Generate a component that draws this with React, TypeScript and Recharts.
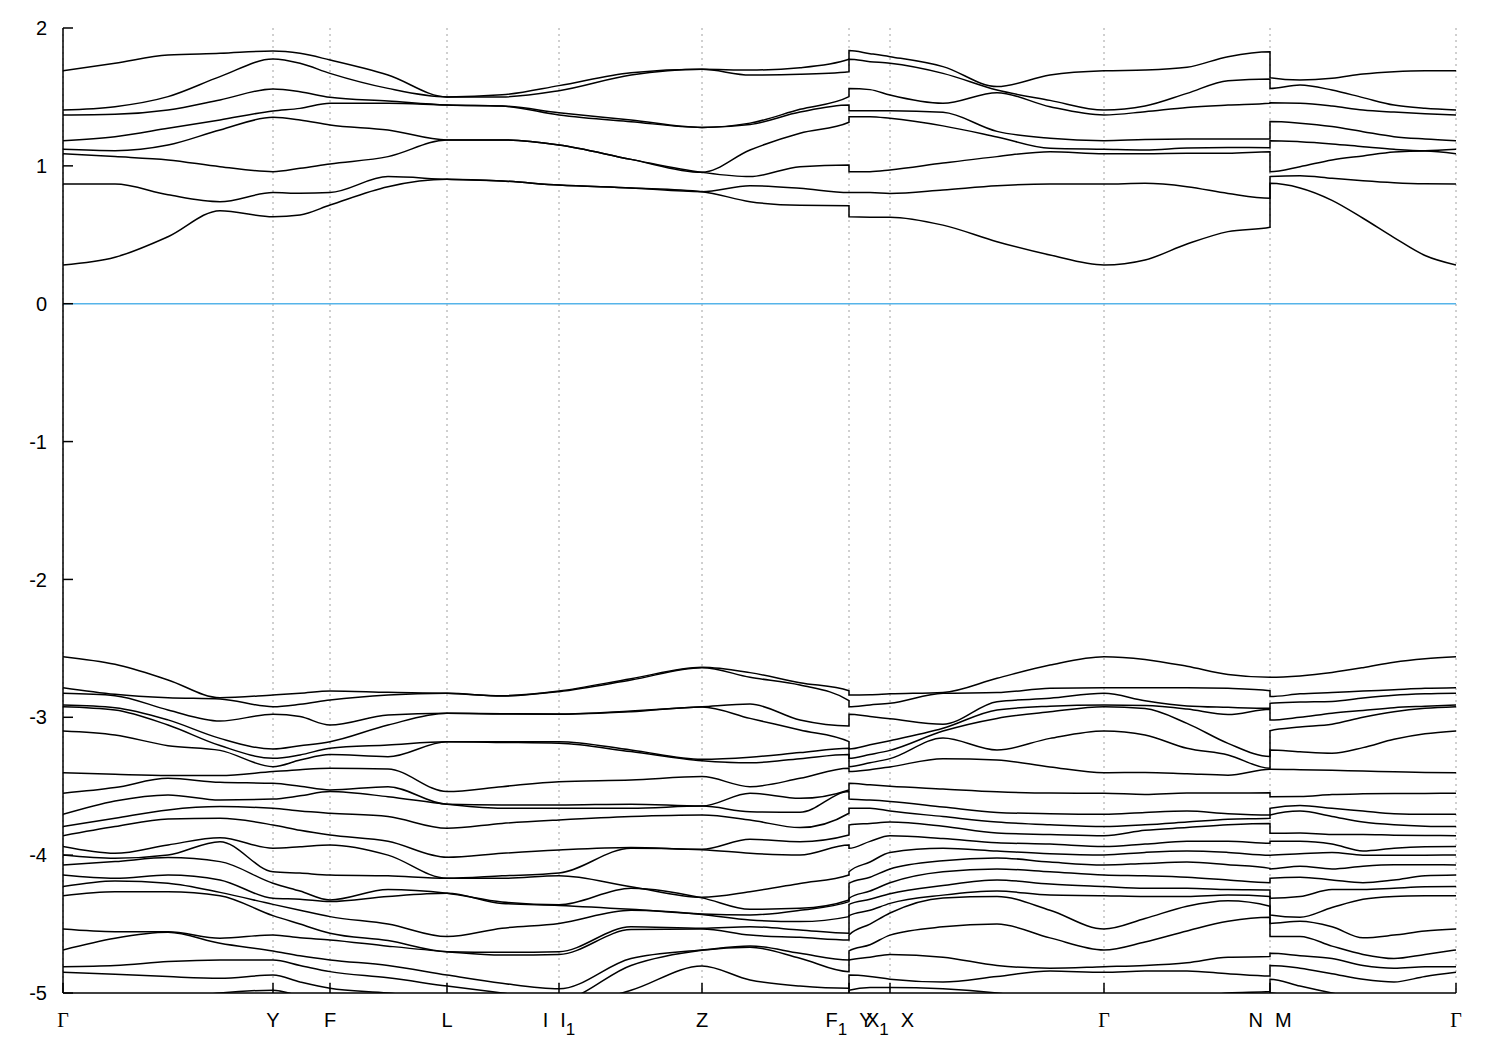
import React from "react";
import { LineChart, Line, XAxis, YAxis, CartesianGrid, ReferenceLine } from "recharts";

// high-symmetry points along the k-path (arbitrary distance units)
const SYM_K = [0, 2.1, 2.67, 3.84, 4.96, 6.39, 7.86, 8.27, 10.41, 12.07, 13.93];
// "|" = gap between two labels sharing a tick, "_1" = subscript
const SYM_LABELS = ["Γ", "Y", "F", "L", "I|I_1", "Z", "F_1|Y", "X_1|X", "Γ", "N|M", "Γ"];
const E_TICKS = [-5, -4, -3, -2, -1, 0, 1, 2];

// sampled k values; 7.86 and 12.07 appear twice (path breaks F1|Y and N|M)
const K_PATH = [
  0, 0.52, 1.05, 1.57, 2.1, 2.37, 2.67, 3.25, 3.84, 4.39, 4.96, 5.68, 6.39, 6.87, 7.37, 7.86,
  7.86, 8.07, 8.27, 8.8, 9.34, 9.87, 10.41, 10.82, 11.24, 11.65, 12.07,
  12.07, 12.37, 12.69, 13.0, 13.31, 13.62, 13.93,
];

// conduction bands (eV)
const C1 = [0.281, 0.337, 0.486, 0.675, 0.631, 0.644, 0.716, 0.849, 0.902, 0.89, 0.861, 0.84, 0.813, 0.74, 0.714, 0.711, 0.631, 0.628, 0.628, 0.57, 0.45, 0.353, 0.281, 0.317, 0.433, 0.523, 0.554, 0.873, 0.84, 0.75, 0.62, 0.48, 0.35, 0.281];
const C2 = [0.868, 0.868, 0.79, 0.74, 0.806, 0.801, 0.806, 0.922, 0.902, 0.89, 0.861, 0.84, 0.813, 0.856, 0.837, 0.806, 0.806, 0.806, 0.8, 0.825, 0.856, 0.868, 0.868, 0.873, 0.849, 0.8, 0.765, 0.922, 0.929, 0.91, 0.892, 0.878, 0.87, 0.868];
const C3 = [1.088, 1.067, 1.043, 0.994, 0.958, 0.982, 1.014, 1.067, 1.188, 1.188, 1.151, 1.047, 0.953, 0.922, 0.994, 1.006, 0.958, 0.958, 0.97, 1.02, 1.067, 1.103, 1.088, 1.088, 1.091, 1.091, 1.103, 0.958, 0.994, 1.043, 1.072, 1.1, 1.108, 1.088];
const C4 = [1.12, 1.11, 1.151, 1.26, 1.352, 1.333, 1.296, 1.26, 1.188, 1.188, 1.151, 1.047, 0.953, 1.115, 1.236, 1.316, 1.357, 1.357, 1.345, 1.29, 1.21, 1.127, 1.12, 1.115, 1.13, 1.134, 1.132, 1.183, 1.175, 1.159, 1.139, 1.12, 1.11, 1.12];
const C5 = [1.183, 1.212, 1.272, 1.333, 1.398, 1.417, 1.454, 1.455, 1.441, 1.434, 1.369, 1.32, 1.279, 1.3, 1.39, 1.441, 1.4, 1.4, 1.4, 1.388, 1.25, 1.2, 1.183, 1.192, 1.195, 1.195, 1.195, 1.321, 1.309, 1.285, 1.248, 1.212, 1.195, 1.183];
const C6 = [1.369, 1.374, 1.405, 1.478, 1.558, 1.538, 1.497, 1.47, 1.441, 1.434, 1.386, 1.333, 1.279, 1.31, 1.41, 1.502, 1.562, 1.553, 1.514, 1.454, 1.531, 1.429, 1.369, 1.393, 1.424, 1.441, 1.454, 1.458, 1.454, 1.434, 1.405, 1.39, 1.378, 1.369];
const C7 = [1.405, 1.429, 1.502, 1.647, 1.775, 1.744, 1.671, 1.562, 1.5, 1.5, 1.545, 1.659, 1.7, 1.659, 1.664, 1.683, 1.773, 1.756, 1.744, 1.671, 1.55, 1.475, 1.405, 1.434, 1.526, 1.618, 1.63, 1.562, 1.587, 1.55, 1.495, 1.441, 1.417, 1.405];
const C8 = [1.69, 1.744, 1.804, 1.816, 1.833, 1.816, 1.768, 1.659, 1.5, 1.515, 1.582, 1.676, 1.7, 1.695, 1.712, 1.773, 1.836, 1.814, 1.792, 1.72, 1.575, 1.659, 1.69, 1.695, 1.715, 1.792, 1.828, 1.64, 1.623, 1.635, 1.666, 1.683, 1.69, 1.69];

// valence bands (eV), highest first
const V1 = [-2.56, -2.616, -2.729, -2.858, -2.838, -2.826, -2.809, -2.819, -2.826, -2.843, -2.809, -2.72, -2.637, -2.676, -2.749, -2.807, -2.838, -2.836, -2.83, -2.82, -2.717, -2.621, -2.56, -2.58, -2.63, -2.69, -2.71, -2.71, -2.7, -2.675, -2.64, -2.6, -2.575, -2.56];
const V2 = [-2.785, -2.833, -2.858, -2.867, -2.923, -2.906, -2.875, -2.838, -2.826, -2.846, -2.814, -2.73, -2.64, -2.71, -2.766, -2.879, -2.923, -2.91, -2.899, -2.826, -2.821, -2.79, -2.785, -2.785, -2.785, -2.79, -2.807, -2.85, -2.83, -2.82, -2.81, -2.8, -2.79, -2.785];
const V3 = [-2.826, -2.843, -2.947, -3.027, -2.978, -2.995, -3.056, -2.983, -2.971, -2.974, -2.976, -2.954, -2.923, -2.904, -3.02, -3.063, -2.978, -2.995, -3.01, -3.05, -2.887, -2.862, -2.826, -2.88, -2.918, -2.928, -2.935, -2.899, -2.89, -2.885, -2.86, -2.84, -2.83, -2.826];
const V4 = [-2.911, -2.93, -3.019, -3.153, -3.23, -3.206, -3.177, -3.056, -2.971, -2.976, -2.978, -2.96, -2.925, -3.008, -3.092, -3.177, -3.23, -3.2, -3.17, -3.08, -2.947, -2.92, -2.911, -2.915, -2.94, -2.98, -2.942, -3.02, -3.0, -2.97, -2.95, -2.93, -2.92, -2.911];
const V5 = [-2.923, -2.947, -3.056, -3.205, -3.298, -3.273, -3.225, -3.201, -3.177, -3.177, -3.177, -3.237, -3.305, -3.29, -3.256, -3.225, -3.298, -3.27, -3.24, -3.1, -3.008, -2.96, -2.923, -2.937, -3.044, -3.189, -3.285, -3.097, -3.07, -3.05, -3.0, -2.96, -2.935, -2.923];
const V6 = [-3.099, -3.128, -3.206, -3.24, -3.358, -3.31, -3.27, -3.286, -3.177, -3.182, -3.189, -3.249, -3.315, -3.33, -3.3, -3.27, -3.358, -3.33, -3.3, -3.15, -3.237, -3.153, -3.099, -3.128, -3.225, -3.273, -3.37, -3.237, -3.25, -3.26, -3.22, -3.16, -3.12, -3.099];
const V7 = [-3.402, -3.414, -3.423, -3.423, -3.394, -3.38, -3.37, -3.375, -3.539, -3.503, -3.467, -3.455, -3.43, -3.503, -3.443, -3.37, -3.394, -3.38, -3.36, -3.3, -3.31, -3.36, -3.402, -3.4, -3.41, -3.42, -3.377, -3.377, -3.38, -3.385, -3.39, -3.395, -3.4, -3.402];
const V8 = [-3.551, -3.51, -3.443, -3.472, -3.479, -3.5, -3.527, -3.503, -3.631, -3.636, -3.636, -3.63, -3.644, -3.551, -3.588, -3.527, -3.479, -3.49, -3.5, -3.52, -3.54, -3.55, -3.551, -3.56, -3.55, -3.55, -3.547, -3.576, -3.575, -3.56, -3.555, -3.553, -3.552, -3.551];
const V9 = [-3.704, -3.607, -3.563, -3.6, -3.593, -3.57, -3.539, -3.576, -3.631, -3.66, -3.66, -3.66, -3.644, -3.685, -3.689, -3.539, -3.593, -3.6, -3.61, -3.65, -3.69, -3.7, -3.704, -3.69, -3.68, -3.7, -3.709, -3.66, -3.64, -3.66, -3.68, -3.7, -3.704, -3.704];
const V10 = [-3.793, -3.733, -3.672, -3.648, -3.66, -3.68, -3.696, -3.72, -3.805, -3.77, -3.745, -3.72, -3.709, -3.745, -3.8, -3.696, -3.66, -3.66, -3.68, -3.72, -3.76, -3.78, -3.793, -3.78, -3.76, -3.74, -3.733, -3.709, -3.68, -3.72, -3.76, -3.78, -3.79, -3.793];
const V11 = [-3.859, -3.793, -3.738, -3.733, -3.781, -3.82, -3.854, -3.9, -4.016, -3.987, -3.963, -3.945, -3.958, -3.885, -3.902, -3.854, -3.781, -3.77, -3.76, -3.79, -3.84, -3.85, -3.859, -3.82, -3.8, -3.78, -3.77, -3.842, -3.84, -3.85, -3.85, -3.855, -3.857, -3.859];
const V12 = [-3.938, -3.987, -3.926, -3.873, -3.95, -3.94, -3.926, -4.0, -4.168, -4.15, -4.13, -3.95, -3.96, -3.987, -3.999, -3.926, -3.95, -3.9, -3.86, -3.88, -3.91, -3.92, -3.938, -3.92, -3.9, -3.9, -3.914, -3.9, -3.9, -3.92, -3.97, -3.95, -3.94, -3.938];
const V13 = [-3.999, -4.023, -3.999, -3.902, -4.12, -4.13, -4.144, -4.15, -4.168, -4.168, -4.15, -4.229, -4.306, -4.265, -4.205, -4.144, -4.12, -4.05, -3.98, -3.95, -3.97, -3.99, -3.999, -3.98, -3.97, -3.98, -4.0, -4.0, -3.99, -3.98, -4.0, -4.0, -4.0, -3.999];
const V14 = [-4.071, -4.047, -4.018, -4.047, -4.204, -4.26, -4.325, -4.25, -4.277, -4.34, -4.36, -4.24, -4.31, -4.393, -4.386, -4.325, -4.204, -4.16, -4.1, -4.04, -4.02, -4.05, -4.071, -4.06, -4.05, -4.07, -4.096, -4.1, -4.08, -4.1, -4.08, -4.07, -4.07, -4.071];
const V15 = [-4.144, -4.168, -4.144, -4.18, -4.313, -4.32, -4.337, -4.3, -4.277, -4.35, -4.365, -4.393, -4.427, -4.434, -4.4, -4.337, -4.313, -4.26, -4.2, -4.12, -4.1, -4.12, -4.144, -4.15, -4.16, -4.18, -4.2, -4.168, -4.16, -4.18, -4.2, -4.18, -4.15, -4.144];
const V16 = [-4.228, -4.187, -4.204, -4.27, -4.357, -4.4, -4.446, -4.5, -4.591, -4.53, -4.495, -4.4, -4.43, -4.47, -4.482, -4.446, -4.357, -4.32, -4.28, -4.22, -4.18, -4.21, -4.228, -4.24, -4.24, -4.25, -4.253, -4.313, -4.3, -4.25, -4.25, -4.24, -4.23, -4.228];
const V17 = [-4.294, -4.265, -4.265, -4.294, -4.439, -4.5, -4.567, -4.62, -4.7, -4.705, -4.7, -4.52, -4.531, -4.519, -4.543, -4.567, -4.439, -4.4, -4.35, -4.29, -4.26, -4.29, -4.294, -4.3, -4.3, -4.29, -4.3, -4.434, -4.45, -4.38, -4.32, -4.3, -4.295, -4.294];
const V18 = [-4.536, -4.555, -4.555, -4.603, -4.579, -4.6, -4.615, -4.66, -4.7, -4.725, -4.72, -4.54, -4.535, -4.58, -4.596, -4.615, -4.579, -4.5, -4.42, -4.31, -4.3, -4.4, -4.536, -4.46, -4.37, -4.33, -4.37, -4.495, -4.48, -4.52, -4.6, -4.58, -4.55, -4.536];
const V19 = [-4.688, -4.603, -4.56, -4.639, -4.695, -4.73, -4.76, -4.8, -4.87, -4.93, -4.97, -4.75, -4.688, -4.659, -4.712, -4.76, -4.695, -4.65, -4.58, -4.52, -4.5, -4.6, -4.688, -4.63, -4.55, -4.48, -4.45, -4.591, -4.59, -4.66, -4.72, -4.75, -4.72, -4.688];
const V20 = [-4.809, -4.801, -4.772, -4.76, -4.76, -4.8, -4.845, -4.89, -4.95, -5.0, -5.05, -4.8, -4.69, -4.668, -4.748, -4.845, -4.76, -4.74, -4.72, -4.74, -4.8, -4.82, -4.809, -4.8, -4.78, -4.74, -4.736, -4.712, -4.73, -4.75, -4.8, -4.82, -4.81, -4.809];
const V21 = [-4.85, -4.864, -4.881, -4.893, -4.87, -4.92, -4.966, -5.0, -5.05, -5.1, -5.1, -4.98, -4.804, -4.905, -4.95, -4.966, -4.87, -4.88, -4.9, -4.92, -4.88, -4.84, -4.85, -4.84, -4.84, -4.86, -4.877, -4.8, -4.82, -4.86, -4.9, -4.92, -4.88, -4.85];
const V22 = [-5.15, -5.1, -5.05, -5.0, -4.98, -5.02, -5.05, -5.1, -5.15, -5.2, -5.2, -5.1, -5.05, -5.03, -5.03, -5.05, -4.98, -4.96, -4.96, -4.97, -5.0, -5.05, -5.15, -5.08, -5.05, -5.0, -4.99, -4.9, -4.95, -5.0, -5.05, -5.1, -5.12, -5.15];
const V23 = [-5.3, -5.25, -5.2, -5.1, -5.1, -5.12, -5.15, -5.2, -5.25, -5.3, -5.3, -5.2, -5.15, -5.15, -5.1, -5.15, -5.1, -5.1, -5.1, -5.1, -5.15, -5.2, -5.3, -5.3, -5.2, -5.1, -5.1, -5.0, -5.05, -5.1, -5.2, -5.25, -5.3, -5.3];

const BANDS = [C1, C2, C3, C4, C5, C6, C7, C8, V1, V2, V3, V4, V5, V6, V7, V8, V9, V10, V11, V12, V13, V14, V15, V16, V17, V18, V19, V20, V21, V22, V23];

const SANS = "'Liberation Sans', Arial, Helvetica, sans-serif";
const SERIF = "'Liberation Serif', 'Times New Roman', serif";

function PathTick(props: any) {
  const { x, y, payload } = props;
  const label = SYM_LABELS[SYM_K.indexOf(payload.value)] ?? "";
  const spans: React.ReactNode[] = [];
  let shift = 0; // current baseline offset from subscripts
  label.split("|").forEach((word, wi) => {
    const [base, sub] = word.split("_");
    spans.push(
      <tspan
        key={`b${wi}`}
        dx={wi > 0 ? 12 : 0}
        dy={-shift}
        fontFamily={base === "Γ" ? SERIF : SANS}
      >
        {base}
      </tspan>
    );
    shift = 0;
    if (sub) {
      spans.push(
        <tspan key={`s${wi}`} fontSize={17} dy={8}>
          {sub}
        </tspan>
      );
      shift = 8;
    }
  });
  return (
    <text x={x} y={y + 44} textAnchor="middle" fontSize={20} fill="#000" fontFamily={SANS}>
      {spans}
    </text>
  );
}

export default function App() {
  const series = BANDS.map((band) => K_PATH.map((k, i) => ({ k, e: band[i] })));

  return (
    <div style={{ background: "#fff", width: 1468 }}>
      <LineChart width={1468} height={1040} margin={{ top: 20, right: 20, bottom: 5, left: 0 }}>
        <CartesianGrid horizontal={false} stroke="#a0a0a0" strokeDasharray="2 4" />
        <XAxis
          dataKey="k"
          type="number"
          domain={[0, 13.93]}
          ticks={SYM_K}
          interval={0}
          height={50}
          allowDataOverflow
          axisLine={{ stroke: "#000", strokeWidth: 1.5 }}
          tickLine={{ stroke: "#000", strokeWidth: 1.5 }}
          tickSize={-10}
          tickMargin={0}
          tick={<PathTick />}
        />
        <XAxis
          xAxisId="top"
          dataKey="k"
          type="number"
          orientation="top"
          domain={[0, 13.93]}
          ticks={SYM_K}
          interval={0}
          height={0}
          axisLine={{ stroke: "#000", strokeWidth: 1.5 }}
          tickLine={{ stroke: "#000", strokeWidth: 1.5 }}
          tickSize={-10}
          tick={false}
        />
        <YAxis
          type="number"
          domain={[-5, 2]}
          ticks={E_TICKS}
          interval={0}
          width={55}
          allowDataOverflow
          axisLine={{ stroke: "#000", strokeWidth: 1.5 }}
          tickLine={{ stroke: "#000", strokeWidth: 1.5 }}
          tickSize={-10}
          tickMargin={26}
          tick={{ fill: "#000", fontSize: 20, fontFamily: SANS }}
        />
        <YAxis
          yAxisId="right"
          orientation="right"
          type="number"
          domain={[-5, 2]}
          ticks={E_TICKS}
          interval={0}
          width={0}
          axisLine={{ stroke: "#000", strokeWidth: 1.5 }}
          tickLine={{ stroke: "#000", strokeWidth: 1.5 }}
          tickSize={-10}
          tick={false}
        />
        <ReferenceLine y={0} stroke="#56b4e9" strokeWidth={1.5} />
        {series.map((data, i) => (
          <Line
            key={i}
            data={data}
            dataKey="e"
            type="monotone"
            stroke="#000"
            strokeWidth={1.5}
            dot={false}
            activeDot={false}
            isAnimationActive={false}
          />
        ))}
      </LineChart>
    </div>
  );
}
